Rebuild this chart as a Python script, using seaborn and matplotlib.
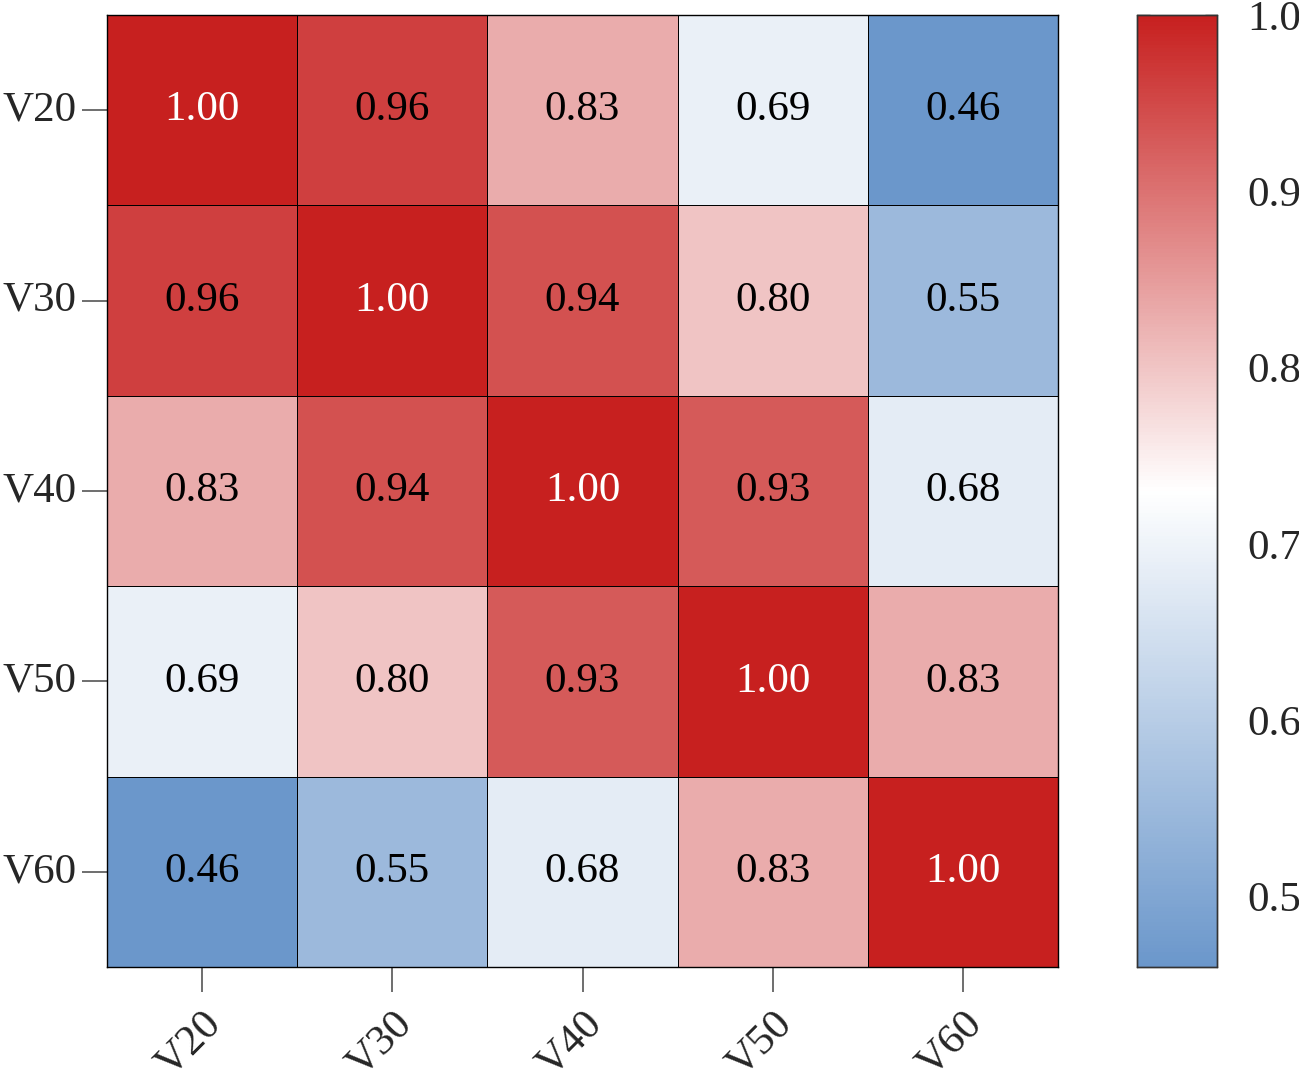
import numpy as np
import pandas as pd
import matplotlib
matplotlib.use("Agg")
import matplotlib.pyplot as plt
import seaborn as sns
from matplotlib.colors import LinearSegmentedColormap

# variables and correlation values
labels = ["V20", "V30", "V40", "V50", "V60"]
row_v20 = [1.00, 0.96, 0.83, 0.69, 0.46]
row_v30 = [0.96, 1.00, 0.94, 0.80, 0.55]
row_v40 = [0.83, 0.94, 1.00, 0.93, 0.68]
row_v50 = [0.69, 0.80, 0.93, 1.00, 0.83]
row_v60 = [0.46, 0.55, 0.68, 0.83, 1.00]
cbar_ticks = [0.5, 0.6, 0.7, 0.8, 0.9, 1.0]

corr = pd.DataFrame([row_v20, row_v30, row_v40, row_v50, row_v60],
                    index=labels, columns=labels)

sns.set_style("white")
plt.rcParams['font.family'] = ['Liberation Serif', 'DejaVu Serif']

cmap = LinearSegmentedColormap.from_list("bwr_soft", ["#6B97CB", "#FFFFFF", "#C7201F"])

W, H = 1299, 1073
fig = plt.figure(figsize=(W / 100, H / 100), dpi=100)
ax = fig.add_axes([107 / W, (H - 967) / H, 951 / W, 952 / H])
cax = fig.add_axes([1137 / W, (H - 967) / H, 80 / W, 952 / H])

sns.heatmap(corr, ax=ax, cbar_ax=cax, cmap=cmap, vmin=0.46, vmax=1.0,
            annot=True, fmt=".2f", annot_kws={"fontsize": 31, "color": "black"},
            linewidths=0.6, linecolor="black", square=False)

# diagonal labels are white
for t in ax.texts:
    if t.get_text() == "1.00":
        t.set_color("white")

for sp in ax.spines.values():
    sp.set_visible(True)
    sp.set_color("black")
    sp.set_linewidth(1.0)

ax.tick_params(axis="both", which="major", length=18, width=1.2, color="#555555",
               labelsize=31, bottom=True, left=True)
ax.tick_params(axis="y", pad=4)
ax.tick_params(axis="x", pad=9)
ax.set_yticklabels(labels, rotation=0)
ax.set_xticklabels(labels, rotation=45, ha="right", rotation_mode="anchor")
ax.set_xlabel("")
ax.set_ylabel("")

cax.set_yticks(cbar_ticks)
cax.set_yticklabels([f"{v:.1f}" for v in cbar_ticks])
cax.tick_params(axis="y", direction="in", left=True, right=True, length=9,
                width=1.0, color="#333333", labelsize=31, pad=22)
for sp in cax.spines.values():
    sp.set_visible(True)
    sp.set_color("#333333")
    sp.set_linewidth(1.0)

fig.savefig("out.png", dpi=100)
